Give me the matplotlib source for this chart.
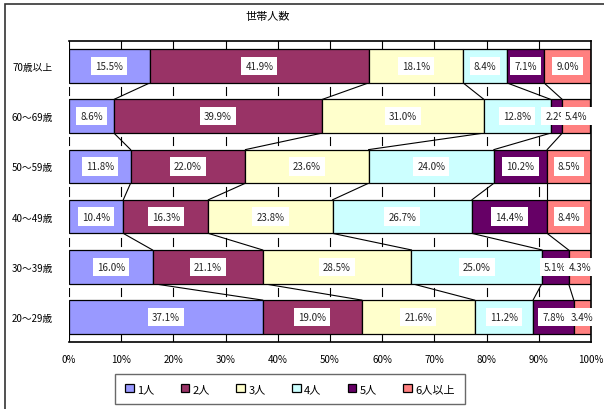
import matplotlib
matplotlib.use("Agg")
import matplotlib.pyplot as plt
from matplotlib.patches import Rectangle

plt.rcParams["font.family"] = ["Noto Sans CJK JP", "DejaVu Sans"]

# 年齢層ごとの世帯人数構成比 (%)
age_groups = ["70歳以上", "60～69歳", "50～59歳", "40～49歳", "30～39歳", "20～29歳"]
series_names = ["1人", "2人", "3人", "4人", "5人", "6人以上"]
p1 = [15.5, 8.6, 11.8, 10.4, 16.0, 37.1]
p2 = [41.9, 39.9, 22.0, 16.3, 21.1, 19.0]
p3 = [18.1, 31.0, 23.6, 23.8, 28.5, 21.6]
p4 = [8.4, 12.8, 24.0, 26.7, 25.0, 11.2]
p5 = [7.1, 2.2, 10.2, 14.4, 5.1, 7.8]
p6 = [9.0, 5.4, 8.5, 8.4, 4.3, 3.4]
x_ticks = [0, 10, 20, 30, 40, 50, 60, 70, 80, 90, 100]

series = [p1, p2, p3, p4, p5, p6]
colors = ["#9999FF", "#993366", "#FFFFCC", "#CCFFFF", "#660066", "#FF8080"]

W, H = 604, 410
fig = plt.figure(figsize=(W / 100, H / 100), dpi=100)

# 外枠
fig.patches.append(Rectangle((5 / W, -0.1), 1.2, 1 - 5 / H + 0.1, transform=fig.transFigure,
                             fill=False, edgecolor="#333333", linewidth=1.2))

ax = fig.add_axes([69 / W, 1 - 343 / H, (591 - 69) / W, (343 - 42) / H])

ys = list(range(len(age_groups)))
bar_h = 0.67
left = [0.0] * len(age_groups)
handles = []
for vals, name, c in zip(series, series_names, colors):
    bars = ax.barh(ys, vals, left=left, height=bar_h, color=c, edgecolor="black",
                   linewidth=0.9, label=name, zorder=2)
    ax.bar_label(bars, labels=[f"{v:.1f}%" for v in vals], label_type="center",
                 fontsize=7, color="#222222", zorder=4,
                 bbox=dict(boxstyle="square,pad=0.42", facecolor="white", edgecolor="none"))
    handles.append(bars)
    left = [l + v for l, v in zip(left, vals)]

# 区分線 (系列線)
cum = [0.0] * len(age_groups)
for vals in series[:-1]:
    cum = [c + v for c, v in zip(cum, vals)]
    for i in range(len(age_groups) - 1):
        ax.plot([cum[i], cum[i + 1]], [i + bar_h / 2, i + 1 - bar_h / 2],
                color="black", linewidth=0.8, zorder=1)

# 棒の間の目盛り
gap = 1 - bar_h
for x in x_ticks[:-1]:
    ax.plot([x, x], [-0.5, -bar_h / 2], color="black", linewidth=0.8, zorder=1)
    ax.plot([x, x], [len(age_groups) - 1 + bar_h / 2, len(age_groups) - 0.5],
            color="black", linewidth=0.8, zorder=1)
    for i in range(len(age_groups) - 1):
        mid = i + 0.5
        ax.plot([x, x], [mid - gap / 4, mid + gap / 4], color="black",
                linewidth=0.8, zorder=1)

ax.set_xlim(0, 100)
ax.set_ylim(len(age_groups) - 0.5, -0.5)
ax.set_xticks(x_ticks)
ax.set_xticklabels([f"{t}%" for t in x_ticks], fontsize=7)
ax.set_yticks(ys)
ax.set_yticklabels(age_groups, fontsize=7)
ax.tick_params(axis="both", length=0, pad=9)
ax.tick_params(axis="y", pad=11.5)
ax.spines["left"].set_visible(False)
for s in ["top", "right", "bottom"]:
    ax.spines[s].set_linewidth(1.2)

fig.text(268 / W, 1 - 17 / H, "世帯人数", ha="center", va="center", fontsize=8)

leg = fig.legend(handles, series_names, ncol=6, loc="center",
                 bbox_to_anchor=(290 / W, 1 - 390 / H), fontsize=8,
                 frameon=True, fancybox=False, edgecolor="#444444",
                 handlelength=0.8, handleheight=0.8, handletextpad=0.3,
                 columnspacing=2.35, borderpad=0.9)
leg.get_frame().set_linewidth(1.0)

fig.savefig("out.png", dpi=100)
